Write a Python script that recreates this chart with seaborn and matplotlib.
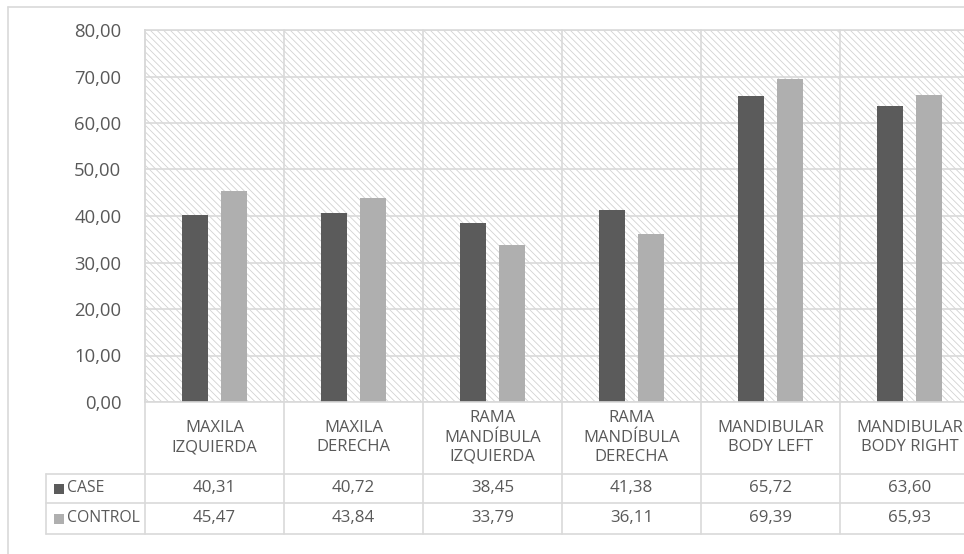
import numpy as np
import pandas as pd
import matplotlib
matplotlib.use("Agg")
import matplotlib.pyplot as plt
import seaborn as sns
from matplotlib.patches import Rectangle
from matplotlib.lines import Line2D
from matplotlib.transforms import blended_transform_factory

# ---- data ----
categories = ["MAXILA\nIZQUIERDA", "MAXILA\nDERECHA", "RAMA\nMANDÍBULA\nIZQUIERDA",
              "RAMA\nMANDÍBULA\nDERECHA", "MANDIBULAR\nBODY LEFT", "MANDIBULAR\nBODY RIGHT"]
series_names = ["CASE", "CONTROL"]
case_values = [40.31, 40.72, 38.45, 41.38, 65.72, 63.60]
control_values = [45.47, 43.84, 33.79, 36.11, 69.39, 65.93]
y_ticks = [0, 10, 20, 30, 40, 50, 60, 70, 80]

series_colors = ["#5b5b5b", "#afafaf"]
grid_color = "#d9d9d9"
text_color = "#595959"

sns.set_style("white")
plt.rcParams["font.family"] = ["Open Sans", "DejaVu Sans"]
plt.rcParams["hatch.linewidth"] = 0.6

df = pd.DataFrame({
    "category": categories * 2,
    "series": [series_names[0]] * len(categories) + [series_names[1]] * len(categories),
    "value": case_values + control_values,
})

W, H = 964, 554
fig = plt.figure(figsize=(W / 100, H / 100), dpi=100)
fig.patch.set_facecolor("white")


def fx(px):
    return px / W


def fy(py):
    return 1 - py / H


ax = fig.add_axes([fx(145), fy(402), fx(979) - fx(145), fy(30) - fy(402)])

# hatched plot-area background
ax.set_facecolor("white")
ax.add_patch(Rectangle((0, 0), 1, 1, transform=ax.transAxes, facecolor="white",
                       edgecolor="#d2d2d2", hatch="\\\\\\\\\\", lw=0, zorder=0))

sns.barplot(data=df, x="category", y="value", hue="series", order=categories,
            hue_order=series_names, palette=series_colors, width=0.56, gap=0.31,
            saturation=1, linewidth=0, legend=False, ax=ax, zorder=2)

ax.set_xlim(-0.5, len(categories) - 0.5)
ax.set_ylim(y_ticks[0], y_ticks[-1])
ax.set_xticks([])
ax.set_xlabel("")
ax.set_ylabel("")
ax.set_yticks(y_ticks)
ax.set_yticklabels([f"{v:.2f}".replace(".", ",") for v in y_ticks])
ax.tick_params(axis="y", length=0, pad=17, labelsize=13.3, labelcolor=text_color)
ax.yaxis.grid(True, color=grid_color, lw=1.2, zorder=1)
ax.set_axisbelow(True)
for s in ax.spines.values():
    s.set_color(grid_color)
    s.set_linewidth(1.2)

trans = blended_transform_factory(ax.transData, fig.transFigure)

# vertical category boundaries (through plot and table)
for b in np.arange(-0.5, len(categories) + 0.5, 1.0):
    ax.plot([b, b], [fy(534), fy(30)], transform=trans, color=grid_color, lw=1.2,
            clip_on=False, zorder=1)

# table horizontal lines
for py in [474, 503, 534]:
    fig.add_artist(Line2D([fx(46), fx(979)], [fy(py), fy(py)], transform=fig.transFigure,
                          color=grid_color, lw=1.2))
fig.add_artist(Line2D([fx(46), fx(46)], [fy(474), fy(534)], transform=fig.transFigure,
                      color=grid_color, lw=1.2))

# chart border
fig.add_artist(Line2D([fx(8), fx(8)], [fy(7), 0], transform=fig.transFigure,
                      color=grid_color, lw=1.2))
fig.add_artist(Line2D([fx(8), 1], [fy(7), fy(7)], transform=fig.transFigure,
                      color=grid_color, lw=1.2))

# category labels
for i, cat in enumerate(categories):
    ax.text(i, fy(437.5), cat, transform=trans, ha="center", va="center",
            fontsize=12, color=text_color, linespacing=1.28, clip_on=False)

# table values
row_y = [488.5, 518.5]
for vals, ry in zip([case_values, control_values], row_y):
    for i, v in enumerate(vals):
        ax.text(i, fy(ry), f"{v:.2f}".replace(".", ","), transform=trans, ha="center",
                va="center", fontsize=12.2, color=text_color, clip_on=False)

# legend keys in table
for name, col, ry in zip(series_names, series_colors, row_y):
    fig.add_artist(Rectangle((fx(54), fy(ry + 5)), fx(10), 10 / H, transform=fig.transFigure,
                             facecolor=col, edgecolor="none"))
    fig.text(fx(67), fy(ry), name, ha="left", va="center", fontsize=11.3, color=text_color)

fig.savefig("out.png", dpi=100, facecolor="white")
